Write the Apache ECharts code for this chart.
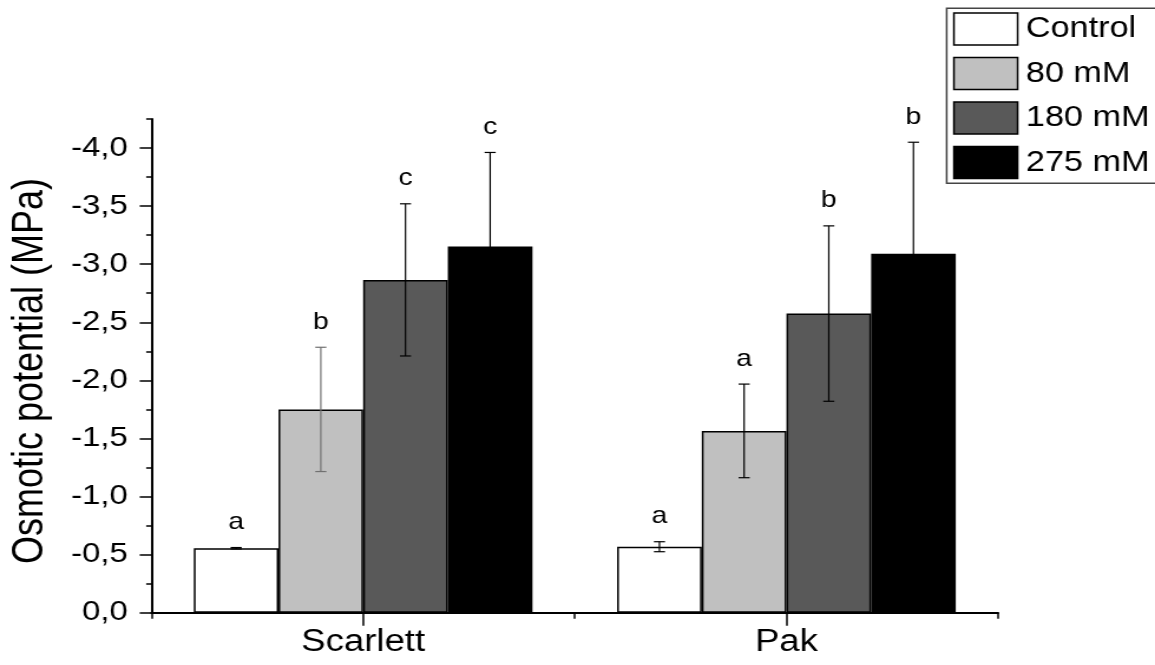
<!DOCTYPE html>
<html>
<head>
<meta charset="utf-8">
<script src="https://cdn.jsdelivr.net/npm/echarts@6/dist/echarts.min.js"></script>
<style>
  html, body { margin: 0; padding: 0; background: #fff; overflow: hidden; }
  /* the figure uses horizontally widened lettering: draw at 979px and stretch to 1155px */
  #chart { width: 979px; height: 665px; transform: scaleX(1.1798); transform-origin: 0 0; }
</style>
</head>
<body>
<div id="chart"></div>
<script>
// Cultivars on the x axis
const categories = ['Scarlett', 'Pak'];
// NaCl treatments (legend)
const treatments = ['Control', '80 mM', '180 mM', '275 mM'];

// Osmotic potential magnitude (MPa, plotted as -value), one entry per cultivar
const controlMean = [0.555, 0.568];
const controlErr  = [0.006, 0.043];
const mM80Mean    = [1.75, 1.565];
const mM80Err     = [0.535, 0.403];
const mM180Mean   = [2.865, 2.575];
const mM180Err    = [0.655, 0.755];
const mM275Mean   = [3.152, 3.09];
const mM275Err    = [0.81, 0.96];

// Significance letters above each bar
const controlLetters = ['a', 'a'];
const mM80Letters    = ['b', 'a'];
const mM180Letters   = ['c', 'b'];
const mM275Letters   = ['c', 'b'];

// Y tick values (labelled as negative potentials)
const yMajorTicks = [0, 0.5, 1.0, 1.5, 2.0, 2.5, 3.0, 3.5, 4.0];

const means   = [controlMean, mM80Mean, mM180Mean, mM275Mean];
const errs    = [controlErr, mM80Err, mM180Err, mM275Err];
const letters = [controlLetters, mM80Letters, mM180Letters, mM275Letters];

const FONT = 'Liberation Sans, Arial, sans-serif';
const fills = ['#ffffff', '#c0c0c0', '#595959', '#000000'];
const errStroke = [['#000', '#000'], ['#707070', '#000'], ['#000', '#000'], ['#000', '#000']];
const CAT_GAP = 0.2;

const fmtY = v => (v === 0 ? '0,0' : '-' + v.toFixed(1).replace('.', ','));

const barSeries = treatments.map((name, s) => ({
  name,
  type: 'bar',
  xAxisIndex: 0,
  yAxisIndex: 0,
  barGap: '0%',
  barCategoryGap: (CAT_GAP * 100) + '%',
  data: means[s],
  itemStyle: { color: fills[s], borderColor: '#000', borderWidth: 1.5 },
  emphasis: { disabled: true },
  z: 2
}));

const errorSeries = treatments.map((name, s) => ({
  type: 'custom',
  xAxisIndex: 0,
  yAxisIndex: 0,
  silent: true,
  z: 5,
  encode: { x: 0, y: 1 },
  data: categories.map((c, i) => [i, means[s][i], errs[s][i]]),
  renderItem(params, api) {
    const ci = api.value(0);
    const mean = api.value(1);
    const err = api.value(2);
    const band = api.size([1, 0])[0];
    const bw = band * (1 - CAT_GAP) / treatments.length;
    const cx = api.coord([ci, 0])[0] + (s - (treatments.length - 1) / 2) * bw;
    const yTop = api.coord([ci, mean + err])[1];
    const yBot = api.coord([ci, mean - err])[1];
    const hw = 4.7;
    const stroke = errStroke[s][params.dataIndex];
    const ls = { stroke, lineWidth: 1.2 };
    return {
      type: 'group',
      children: [
        { type: 'line', shape: { x1: cx, y1: yTop, x2: cx, y2: yBot }, style: ls },
        { type: 'line', shape: { x1: cx - hw, y1: yTop, x2: cx + hw, y2: yTop }, style: ls },
        { type: 'line', shape: { x1: cx - hw, y1: yBot, x2: cx + hw, y2: yBot }, style: ls },
        {
          type: 'text',
          style: {
            text: letters[s][params.dataIndex],
            x: cx, y: yTop - 13,
            align: 'center', verticalAlign: 'bottom',
            font: '24px ' + FONT, fill: '#000'
          }
        }
      ]
    };
  }
}));

const chart = echarts.init(document.getElementById('chart'), null, { renderer: 'canvas' });

chart.setOption({
  animation: false,
  backgroundColor: '#fff',
  grid: { left: 128.4, right: 133, top: 119, bottom: 52.3, containLabel: false },
  legend: {
    orient: 'vertical',
    left: 802.4,
    top: 8.3,
    itemWidth: 54,
    itemHeight: 32,
    itemGap: 11,
    padding: [4, 20, 4, 5.4],
    borderColor: '#444',
    borderWidth: 1.5,
    selectedMode: false,
    icon: 'rect',
    textStyle: { fontFamily: FONT, fontSize: 29, lineHeight: 32, color: '#000', padding: [0, 0, 0, 2] },
    data: treatments.map((name, s) => ({
      name,
      itemStyle: { color: fills[s], borderColor: '#000', borderWidth: 1.5 }
    }))
  },
  xAxis: [
    {
      type: 'category',
      data: categories,
      position: 'bottom',
      boundaryGap: true,
      axisLine: { show: true, lineStyle: { color: '#000', width: 2 } },
      axisTick: { show: true, alignWithLabel: true, length: 13, lineStyle: { color: '#000', width: 1.5 } },
      axisLabel: { fontFamily: FONT, fontSize: 31, color: '#000', margin: 14 },
      splitLine: { show: false }
    },
    {
      type: 'category',
      data: categories,
      position: 'bottom',
      boundaryGap: true,
      axisLine: { show: false },
      axisTick: { show: true, alignWithLabel: false, length: 6, lineStyle: { color: '#000', width: 1.5 } },
      axisLabel: { show: false },
      splitLine: { show: false }
    }
  ],
  yAxis: [
    {
      type: 'value',
      min: 0,
      max: 4.25,
      interval: 0.25,
      position: 'left',
      axisLine: { show: true, lineStyle: { color: '#000', width: 2 } },
      axisTick: { show: true, inside: false, length: 4.5, lineStyle: { color: '#000', width: 1.5 } },
      axisLabel: { show: false },
      splitLine: { show: false }
    },
    {
      type: 'value',
      min: 0,
      max: 4.25,
      position: 'left',
      offset: 0,
      axisLine: { show: false },
      axisTick: { show: true, length: 10, customValues: yMajorTicks, lineStyle: { color: '#000', width: 1.5 } },
      axisLabel: {
        customValues: yMajorTicks,
        formatter: fmtY,
        fontFamily: FONT, fontSize: 28, color: '#000', margin: 20
      },
      splitLine: { show: false }
    }
  ],
  graphic: [
    {
      type: 'text',
      x: 26.3,
      y: 371,
      rotation: Math.PI / 2,
      style: {
        text: 'Osmotic potential (MPa)',
        font: '36px ' + FONT,
        fill: '#000',
        align: 'center',
        verticalAlign: 'middle'
      }
    }
  ],
  series: [...barSeries, ...errorSeries]
});
</script>
</body>
</html>
